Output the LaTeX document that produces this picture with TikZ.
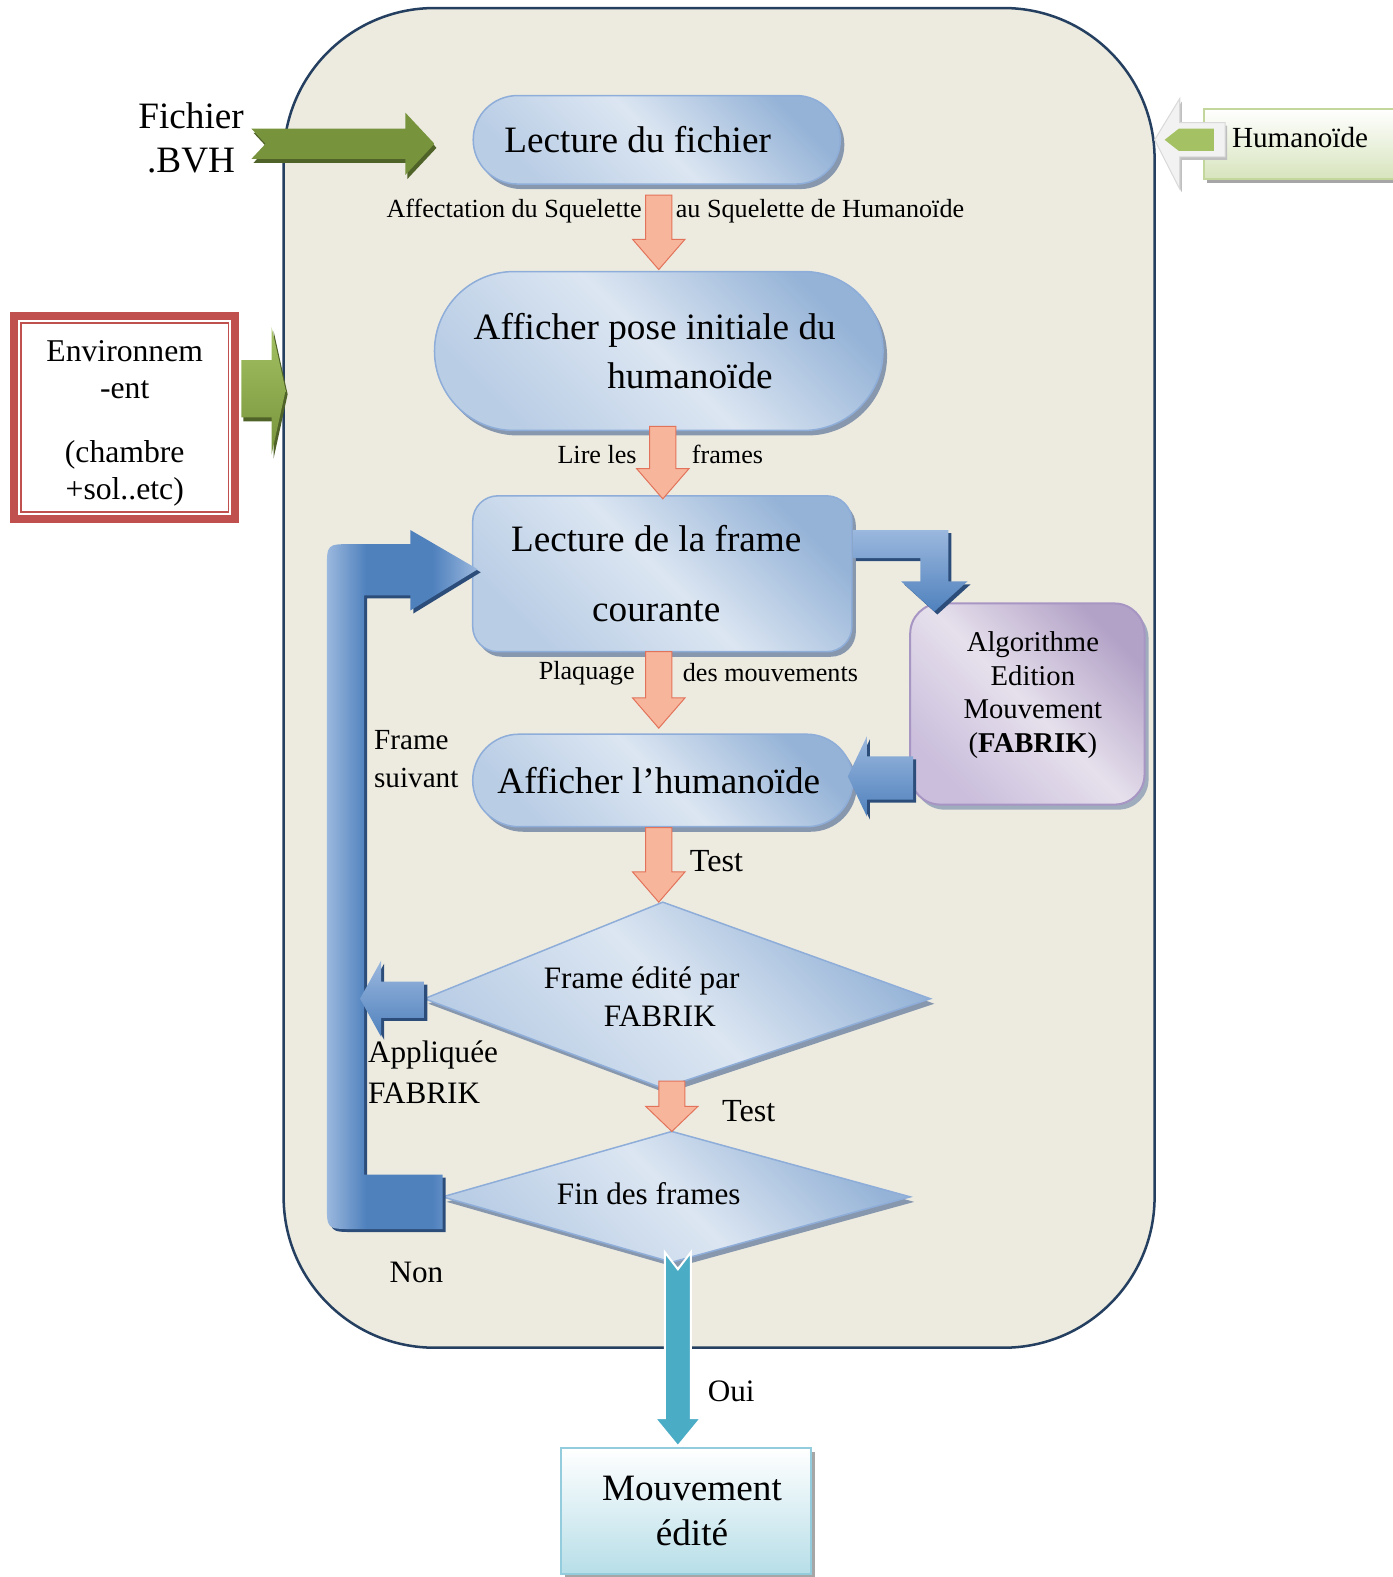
\documentclass[tikz,border=0pt]{standalone}
\usepackage{fontspec}
\setmainfont{Liberation Serif}
\usetikzlibrary{shapes.misc,shadows,calc}

\definecolor{frameline}{HTML}{243F60}
\definecolor{panelbg}{HTML}{EDEBE0}
\definecolor{bluelight}{HTML}{DCE6F2}
\definecolor{bluemid}{HTML}{B9CDE5}
\definecolor{bluedark}{HTML}{95B3D7}
\definecolor{blueedge}{HTML}{8EADD8}
\definecolor{blueshadow}{HTML}{8797AE}
\definecolor{arrowblue}{HTML}{4F81BD}
\definecolor{arrowbluelt}{HTML}{9BB8DE}
\definecolor{arrowbluedk}{HTML}{2C4D7A}
\definecolor{salmonfill}{HTML}{F7B69C}
\definecolor{salmonedge}{HTML}{E2735A}
\definecolor{greendk}{HTML}{77933C}
\definecolor{greenlt}{HTML}{A4C263}
\definecolor{greenshadow}{HTML}{4F6228}
\definecolor{purplelt}{HTML}{E6E0EC}
\definecolor{purplemid}{HTML}{CABEDC}
\definecolor{purpledk}{HTML}{B3A2C7}
\definecolor{purpleedge}{HTML}{A795C3}
\definecolor{tealarrow}{HTML}{4BACC6}
\definecolor{tealedge}{HTML}{93CDDD}
\definecolor{teallt}{HTML}{B7DEE8}
\definecolor{redframe}{HTML}{C0504D}
\definecolor{greenedge}{HTML}{C3D69B}
\definecolor{greenpale}{HTML}{D7E4BD}
\definecolor{greyshadow}{HTML}{A6A6A6}

% light edge, dark body, lighter end for the loop-back arrow
\pgfdeclarehorizontalshading{loopshade}{100bp}{color(0bp)=(arrowbluelt); color(25bp)=(arrowbluelt);
  color(38bp)=(arrowblue); color(60bp)=(arrowblue); color(75bp)=(arrowbluelt); color(100bp)=(arrowbluelt)}

\newcommand\fsz[2]{\fontsize{#1pt}{#2pt}\selectfont}

% salmon block arrow pointing down: top point, tip point, head length
\newcommand\salmondown[3]{%
  \filldraw[salmonarrow] let \p1=#1, \p2=#2 in
    (\x1-13pt,\y1) -- (\x1+13pt,\y1) -- (\x1+13pt,\y2+#3) -- (\x1+26pt,\y2+#3)
    -- (\x1,\y2) -- (\x1-26pt,\y2+#3) -- (\x1-13pt,\y2+#3) -- cycle;}

\begin{document}
\begin{tikzpicture}[x=1pt,y=-1pt,
  every node/.style={inner sep=0pt, outer sep=0pt},
  lbl/.style={font=\fsz{26}{30}},
  bluefill/.style={top color=bluedark, bottom color=bluemid, middle color=bluelight, shading angle=-45},
  bluebox/.style={bluefill, draw=blueedge, line width=1.5pt,
    drop shadow={shadow xshift=4pt, shadow yshift=-5pt, fill=blueshadow, opacity=1}},
  stadium/.style={bluebox, rounded rectangle},
  salmonarrow/.style={fill=salmonfill, draw=salmonedge, line width=1pt},
  bluearrowshadow/.style={drop shadow={shadow xshift=3pt, shadow yshift=-3pt, fill=arrowbluedk, opacity=1}},
  greenarrowshadow/.style={drop shadow={shadow xshift=2pt, shadow yshift=-4pt, fill=greenshadow, opacity=1}}
]
\useasboundingbox (0,0) rectangle (1385,1568);

% main panel
\node[draw=frameline, line width=2.5pt, fill=panelbg, rounded corners=150pt,
      minimum width=866pt, minimum height=1332pt] (panel) at (715,674) {};

% input file
\node[align=center, font=\fsz{37}{43}] (bvh) at (190,137) {Fichier\\.BVH};
\shade[left color=greendk, middle color=greenlt, right color=greendk, greenarrowshadow]
  (250,128) -- (403,128) -- (403,112) -- (432,143) -- (403,174) -- (403,158)
  -- (250,158) -- (264,143) -- cycle;

% humanoid model input
\node[top color=white, bottom color=greenpale, draw=greenedge, line width=2pt,
      minimum width=205pt, minimum height=70pt,
      drop shadow={shadow xshift=3pt, shadow yshift=-4pt, fill=greyshadow, opacity=1}]
      (hum) at (1300,143) {};
\node[anchor=west, font=\fsz{29}{34}] (humtext) at (1225,137) {Humanoïde};
\filldraw[fill=white!95!black, draw=white!85!black, line width=1pt,
      drop shadow={shadow xshift=2pt, shadow yshift=-3pt, fill=white!75!black, opacity=1}]
  (1218,122) -- (1173,122) -- (1173,98) -- (1148,139) -- (1173,188) -- (1173,156)
  -- (1218,156) -- cycle;
\fill[greenlt] (1207,128) -- (1172,128) -- (1158,139) -- (1172,150) -- (1207,150) -- cycle;

% environment
\node[draw=redframe, line width=8pt, fill=white, minimum width=220pt, minimum height=202pt]
      (env) at (124,415) {};
\draw[redframe, line width=1.5pt] ($(env.south west)+(7,-7)$) rectangle ($(env.north east)+(-7,7)$);
\node[align=center, font=\fsz{31.5}{37}] (envtext) at (124,421)
  {Environnem\\-ent\\[26pt](chambre\\+sol..etc)};
\shade[top color=greenlt, bottom color=greendk, greenarrowshadow]
  (240,358) -- (270,358) -- (270,325) -- (284,388) -- (270,452) -- (270,415) -- (240,415) -- cycle;

% process boxes
\node[stadium, minimum width=365pt, minimum height=88pt, font=\fsz{37}{43}] (lf) at (653,139)
  {Lecture du fichier\hspace*{38pt}};
\node[stadium, minimum width=446pt, minimum height=158pt, align=center, font=\fsz{37}{49}] (ap) at (655,349)
  {Afficher pose initiale du\hspace*{8pt}\\\hspace*{62pt}humanoïde};
\node[bluebox, rounded corners=25pt, minimum width=377pt, minimum height=155pt, align=center,
      font=\fsz{37}{70}] (lc) at (658.5,570.5)
  {Lecture de la frame\hspace*{12pt}\\courante\hspace*{12pt}};
\node[stadium, minimum width=378pt, minimum height=92pt, font=\fsz{37}{43}] (ah) at (659,776)
  {Afficher l’humanoïde\hspace*{8pt}};
\node[top color=purpledk, bottom color=purplemid, middle color=purplelt, shading angle=-45,
      draw=purpleedge, line width=2pt, rounded corners=30pt,
      minimum width=233pt, minimum height=200pt, font=\fsz{28.5}{33.5},
      drop shadow={shadow xshift=4pt, shadow yshift=-5pt, fill=blueshadow!80!white, opacity=1}]
      (ae) at (1021.5,700) {};
\node[align=center, font=\fsz{28.5}{33.5}] (aetext) at (1027,691)
  {Algorithme\\Edition\\Mouvement\\(\textbf{FABRIK})};

% decisions
\coordinate (d1w) at (422,993);
\coordinate (d1n) at (659,897);
\coordinate (d1e) at (925,993);
\coordinate (d1s) at (659,1082);
\coordinate (d2w) at (440,1190);
\coordinate (d2n) at (668,1125);
\coordinate (d2e) at (905,1190);
\coordinate (d2s) at (668,1255);
\shadedraw[bluebox] (d1w) -- (d1n) -- (d1e) -- (d1s) -- cycle;
\node[align=center, font=\fsz{31}{37}] (d1text) at (638,991) {Frame édité par\\\hspace*{36pt}FABRIK};
\shadedraw[bluebox] (d2w) -- (d2n) -- (d2e) -- (d2s) -- cycle;
\node[font=\fsz{31}{37}] (d2text) at (645,1187) {Fin des frames};

% salmon flow arrows
\salmondown{($(lf.south)+(2,11)$)}{($(ap.north)+(0,-2)$)}{30pt}
\salmondown{($(ap.south)+(4,-4)$)}{($(lc.north)+(0,3)$)}{30pt}
\salmondown{($(lc.south)+(-3.5,0)$)}{($(ah.north)+(0,-6)$)}{30pt}
\salmondown{($(ah.south)+(-4,1)$)}{(d1n)}{30pt}
\salmondown{($(d1s)+(9,-7)$)}{(d2n)}{25pt}

\node[lbl, anchor=east] (aff1) at (638,210) {Affectation du Squelette};
\node[lbl, anchor=west] (aff2) at (672,210) {au Squelette de Humanoïde};
\node[lbl, anchor=east] (lire1) at (633,452) {Lire les};
\node[lbl, anchor=west] (lire2) at (688,452) {frames};
\node[lbl, anchor=east] (plaq1) at (631,669) {Plaquage};
\node[lbl, anchor=west] (plaq2) at (679,669) {des mouvements};
\node[anchor=west, font=\fsz{32}{37}] (test1) at (686,856) {Test};
\node[anchor=west, font=\fsz{32}{37}] (test2) at (718,1105) {Test};

% blue bent arrows around the edition algorithm
\shade[top color=arrowbluelt, bottom color=arrowblue, bluearrowshadow]
  (848,527) -- (943,527) -- (943,578) -- (962,578) -- (929,608) -- (896,578)
  -- (915,578) -- (915,555) -- (848,555) -- cycle;
\shade[top color=arrowbluelt, bottom color=arrowblue, bluearrowshadow]
  (908,752) -- (862,752) -- (862,732) -- (843,772) -- (862,812) -- (862,795) -- (908,795) -- cycle;

% loop back to the next frame
\shade[shading=loopshade, bluearrowshadow]
  (440,1168) -- (362,1168) -- (362,592) -- (408,592) -- (408,607) -- (475,566) -- (408,527)
  -- (408,541) -- (350,541) .. controls (325,541) .. (325,566) -- (325,1197)
  .. controls (325,1222) .. (350,1222) -- (440,1222) -- cycle;
\shade[top color=arrowbluelt, bottom color=arrowblue, bluearrowshadow]
  (422,976) -- (379,976) -- (379,955) -- (358,993) -- (379,1031) -- (379,1012) -- (422,1012) -- cycle;

\node[anchor=west, align=left, font=\fsz{29}{38}] (suiv) at (372,755) {Frame\\suivant};
\node[anchor=west, align=left, font=\fsz{31}{41}] (appl) at (366,1066) {Appliquée\\FABRIK};
\node[font=\fsz{31}{37}] (non) at (414,1265) {Non};

% exit
\filldraw[fill=tealarrow, draw=white, line width=2pt]
  (661,1245) -- (674,1262) -- (687,1245) -- (687,1410) -- (697,1410) -- (674,1438)
  -- (651,1410) -- (661,1410) -- cycle;
\node[font=\fsz{31}{37}] (oui) at (727,1383) {Oui};
\node[top color=white, bottom color=teallt, draw=tealedge, line width=2pt,
      minimum width=248pt, minimum height=125pt, align=center, font=\fsz{37}{45},
      drop shadow={shadow xshift=4pt, shadow yshift=-4pt, fill=greyshadow, opacity=1}]
      (me) at (682,1502.5) {\hspace*{12pt}Mouvement\\\hspace*{12pt}édité};
\end{tikzpicture}
\end{document}
